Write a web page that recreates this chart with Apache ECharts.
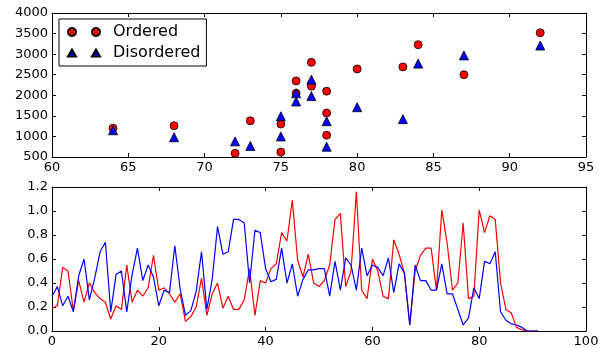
<!DOCTYPE html>
<html>
<head>
<meta charset="utf-8">
<script src="https://cdn.jsdelivr.net/npm/echarts@6/dist/echarts.min.js"></script>
<style>
  html, body { margin: 0; padding: 0; background: #fff; }
  #main { width: 615px; height: 348px; }
</style>
</head>
<body>
<div id="main"></div>
<script>
// top panel: scatter
const orderedX = [64, 68, 72, 73, 75, 75, 76, 76, 77, 77, 77, 78, 78, 78, 80, 83, 84, 87, 92];
const orderedY = [1200, 1260, 590, 1380, 1300, 620, 2350, 2050, 2800, 2270, 2220, 2100, 1570, 1030, 2640, 2690, 3230, 2500, 3520];
const disorderedX = [64, 68, 72, 73, 75, 75, 76, 76, 77, 77, 78, 78, 80, 83, 84, 87, 92];
const disorderedY = [1150, 980, 880, 770, 1490, 1000, 2050, 1850, 2380, 1980, 1370, 750, 1710, 1420, 2770, 2970, 3210];

// bottom panel: two lines, one value per step (x = 0, 1, 2, ...)
const redLine = [0.19, 0.21, 0.53, 0.50, 0.17, 0.42, 0.24, 0.40, 0.32, 0.27,
  0.24, 0.10, 0.21, 0.18, 0.55, 0.24, 0.34, 0.29, 0.36, 0.63,
  0.34, 0.36, 0.31, 0.24, 0.31, 0.08, 0.12, 0.20, 0.44, 0.13,
  0.31, 0.40, 0.19, 0.29, 0.18, 0.18, 0.26, 0.52, 0.13, 0.42,
  0.40, 0.52, 0.56, 0.82, 0.75, 1.09, 0.59, 0.45, 0.64, 0.40,
  0.37, 0.42, 0.55, 0.93, 0.98, 0.37, 0.50, 1.16, 0.34, 0.27,
  0.60, 0.50, 0.29, 0.27, 0.76, 0.64, 0.48, 0.05, 0.50, 0.63,
  0.69, 0.69, 0.34, 1.01, 0.73, 0.34, 0.40, 0.90, 0.27, 0.29,
  1.01, 0.82, 0.96, 0.93, 0.40, 0.18, 0.15, 0.03, 0.01, 0,
  0, 0];
const blueLine = [0.29, 0.37, 0.21, 0.29, 0.16, 0.46, 0.60, 0.26, 0.44, 0.66,
  0.74, 0.16, 0.47, 0.50, 0.16, 0.47, 0.69, 0.42, 0.55, 0.45,
  0.21, 0.34, 0.32, 0.71, 0.35, 0.13, 0.17, 0.33, 0.66, 0.18,
  0.43, 0.87, 0.64, 0.66, 0.93, 0.93, 0.90, 0.40, 0.84, 0.82,
  0.52, 0.41, 0.43, 0.69, 0.40, 0.56, 0.29, 0.43, 0.51, 0.51,
  0.52, 0.52, 0.29, 0.58, 0.34, 0.61, 0.55, 0.34, 0.69, 0.46,
  0.55, 0.53, 0.46, 0.61, 0.32, 0.56, 0.48, 0.05, 0.55, 0.42,
  0.42, 0.34, 0.34, 0.56, 0.31, 0.31, 0.18, 0.05, 0.11, 0.36,
  0.27, 0.58, 0.56, 0.66, 0.16, 0.09, 0.06, 0.05, 0.03, 0,
  0, 0];

const font = 'DejaVu Sans';

function frameAxis(gridIndex, position, min, max, interval, showLabel, decimals) {
    return {
        type: 'value',
        gridIndex: gridIndex,
        position: position,
        min: min,
        max: max,
        interval: interval,
        axisLine: { show: true, onZero: false, lineStyle: { color: '#000', width: 1 } },
        axisTick: { show: true, inside: true, length: 4, lineStyle: { color: '#000' } },
        axisLabel: {
            show: showLabel,
            color: '#000',
            fontFamily: font,
            fontSize: 13,
            margin: 4,
            formatter: decimals ? (v) => v.toFixed(decimals) : (v) => String(v),
        },
        splitLine: { show: false },
    };
}

// legend shows two markers per entry, as in the original
const circleIcon = 'path://M0,4a4,4 0 1,0 8,0a4,4 0 1,0 -8,0Z M24,4a4,4 0 1,0 8,0a4,4 0 1,0 -8,0Z';
const triIcon = 'path://M4,0L8,7L0,7Z M28,0L32,7L24,7Z';

const option = {
    animation: false,
    backgroundColor: '#fff',
    grid: [
        { left: 52, right: 29, top: 13, height: 144 },
        { left: 52, right: 29, top: 187, height: 144 },
    ],
    legend: {
        orient: 'vertical',
        left: 59,
        top: 19,
        padding: [5, 6, 5, 8],
        itemGap: 5,
        itemWidth: 32,
        itemHeight: 8,
        borderColor: '#000',
        borderWidth: 1,
        borderRadius: 0,
        textStyle: { fontFamily: font, fontSize: 16, color: '#000', padding: [0, 0, 0, 8] },
        data: [
            { name: 'Ordered', icon: circleIcon },
            { name: 'Disordered', icon: triIcon },
        ],
    },
    xAxis: [
        frameAxis(0, 'bottom', 60, 95, 5, true),
        frameAxis(0, 'top', 60, 95, 5, false),
        frameAxis(1, 'bottom', 0, 100, 20, true),
        frameAxis(1, 'top', 0, 100, 20, false),
    ],
    yAxis: [
        frameAxis(0, 'left', 500, 4000, 500, true),
        frameAxis(0, 'right', 500, 4000, 500, false),
        frameAxis(1, 'left', 0, 1.2, 0.2, true, 1),
        frameAxis(1, 'right', 0, 1.2, 0.2, false, 1),
    ],
    series: [
        {
            name: 'Ordered',
            type: 'scatter',
            xAxisIndex: 0,
            yAxisIndex: 0,
            symbol: 'circle',
            symbolSize: 8,
            itemStyle: { color: '#ff0000', borderColor: '#000', borderWidth: 0.8, opacity: 1 },
            data: orderedX.map((x, i) => [x, orderedY[i]]),
        },
        {
            name: 'Disordered',
            type: 'scatter',
            xAxisIndex: 0,
            yAxisIndex: 0,
            symbol: 'triangle',
            symbolSize: 9,
            itemStyle: { color: '#0000ff', borderColor: '#000', borderWidth: 0.8, opacity: 1 },
            data: disorderedX.map((x, i) => [x, disorderedY[i]]),
        },
        {
            name: 'red',
            type: 'line',
            xAxisIndex: 2,
            yAxisIndex: 2,
            symbol: 'none',
            lineStyle: { color: '#ff0000', width: 1.2 },
            data: redLine.map((v, i) => [i, v]),
        },
        {
            name: 'blue',
            type: 'line',
            xAxisIndex: 2,
            yAxisIndex: 2,
            symbol: 'none',
            lineStyle: { color: '#0000ff', width: 1.2 },
            data: blueLine.map((v, i) => [i, v]),
        },
    ],
};

const chart = echarts.init(document.getElementById('main'), null, { renderer: 'canvas' });
chart.setOption(option);
</script>
</body>
</html>
